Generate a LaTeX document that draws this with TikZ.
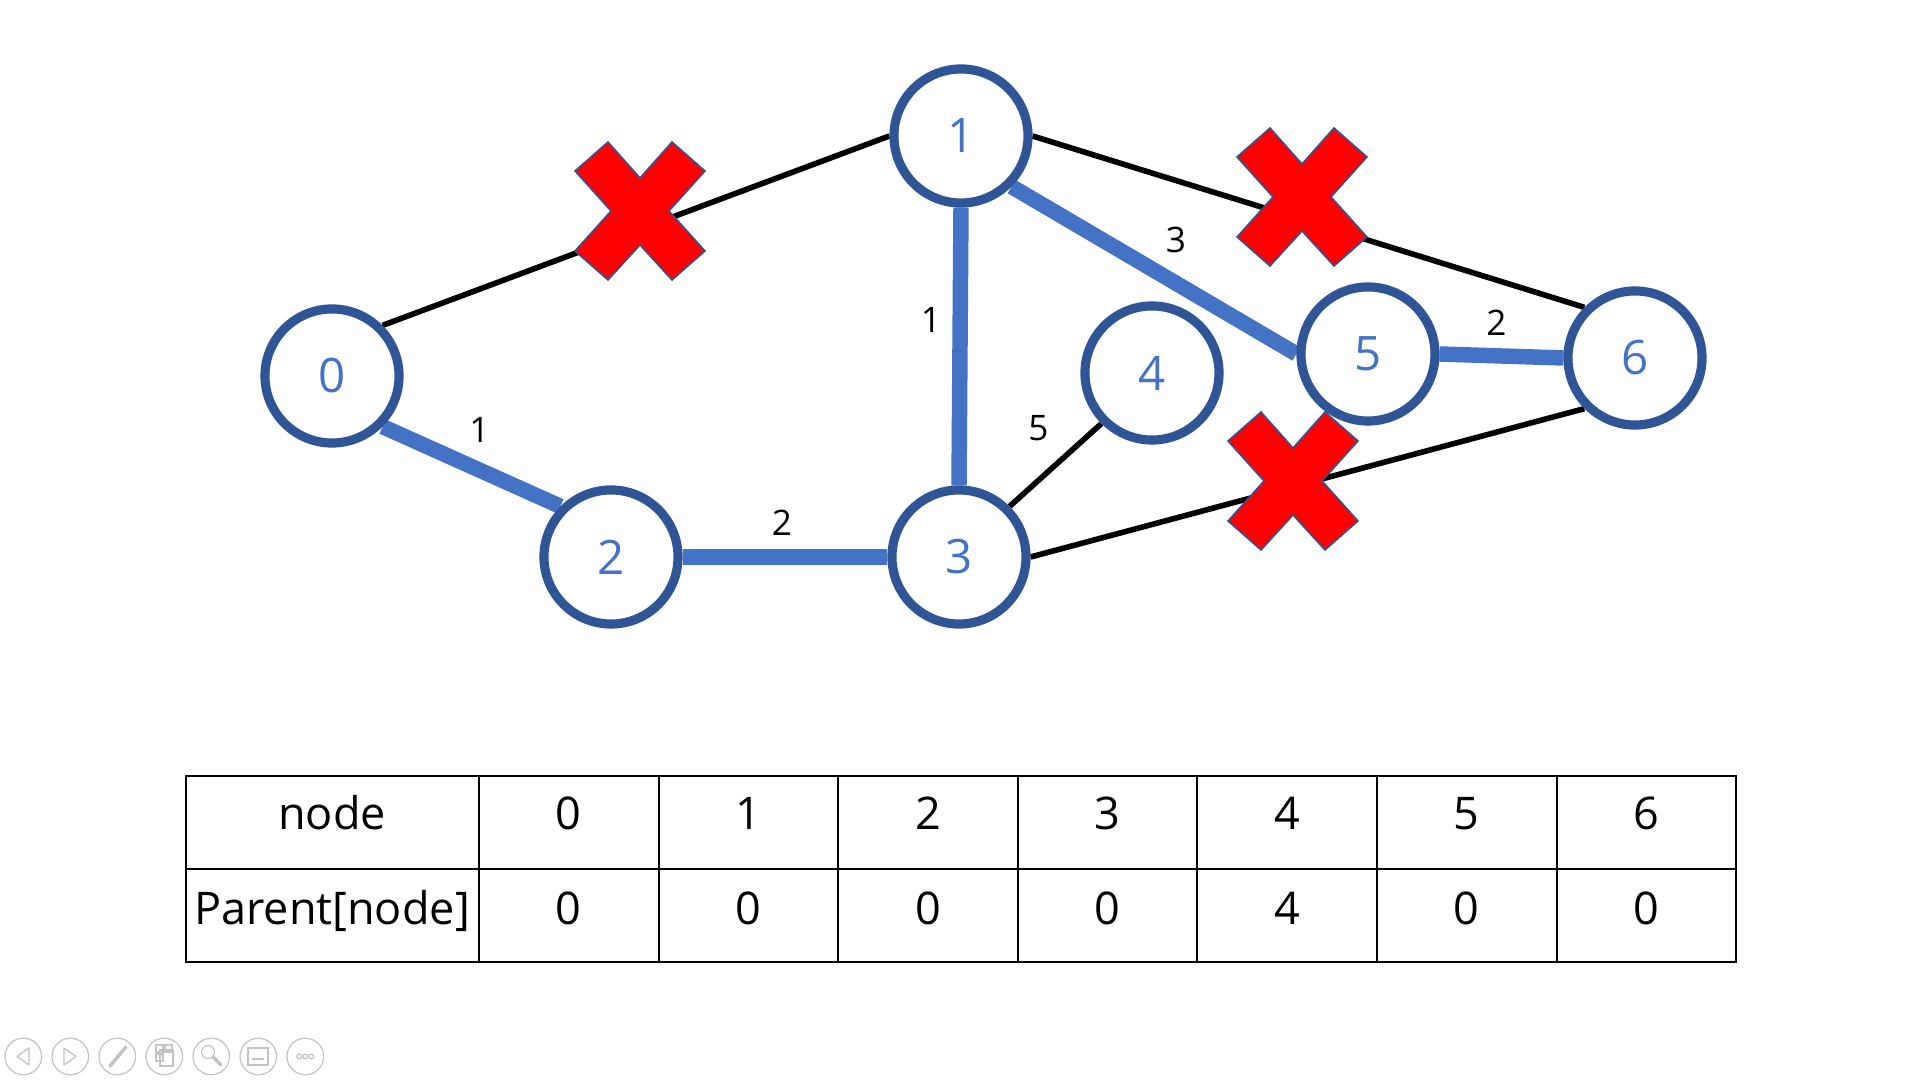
\documentclass[tikz,border=0pt]{standalone}
\usepackage{fontspec}
\setmainfont{Open Sans}
\usetikzlibrary{backgrounds,calc}
\definecolor{NodeRing}{HTML}{2F5597}
\definecolor{NodeText}{HTML}{4472C4}
\definecolor{TreeBlue}{HTML}{4472C4}
\definecolor{CrossRed}{HTML}{FF0000}
\definecolor{IconGrey}{HTML}{C4C4C4}

\begin{document}
\begin{tikzpicture}[x=0.01cm,y=-0.01cm,
          vtx/.style={circle,draw=NodeRing,line width=2.6pt,fill=white,
            minimum size=1.34cm,inner sep=0pt,text=NodeText,
            font=\fontsize{13.5}{16}\selectfont},
          tree/.style={TreeBlue,line width=4.4pt},
          plain/.style={black,line width=1.6pt},
          wt/.style={text=black,font=\fontsize{10}{12}\selectfont,inner sep=0pt},
          cross/.style={fill=CrossRed,draw=NodeRing,line width=0.45pt,line join=miter},
          cell/.style={font=\fontsize{12.8}{15}\selectfont,anchor=base,inner sep=0pt},
          icon/.style={draw=IconGrey,line width=0.35pt}]
        \useasboundingbox (0,0) rectangle (1920,1080);

        % graph nodes
        \node[vtx] (n0) at (332,376)  {0};
        \node[vtx] (n1) at (961,136)  {1};
        \node[vtx] (n2) at (611,557)  {2};
        \node[vtx] (n3) at (959,557)  {3};
        \node[vtx] (n4) at (1152,373) {4};
        \node[vtx] (n5) at (1368,354) {5};
        \node[vtx] (n6) at (1635,358) {6};

        \begin{scope}[on background layer]
          \fill[white] (0,0) rectangle (1920,1080);
          \draw[plain] (n0.north east) -- (n1.west);
          \draw[plain] (n1.east) -- (n6.north west);
          \draw[plain] (n3.east) -- (n6.south west);
          \draw[plain] (n3.north east) -- node[wt,shift={(-17,-37)}] {5} (n4.south west);
          \draw[tree] (n0.south east) -- node[wt,shift={(8,-37)}] {1} (n2.north west);
          \draw[tree] (n2.east) -- node[wt,shift={(-3,-34)}] {2} (n3.west);
          \draw[tree] (n1.south) -- node[wt,shift={(-29,-27)}] {1} (n3.north);
          \draw[tree] (n1.south east) -- node[wt,shift={(22,-30)}] {3} (n5.west);
          \draw[tree] (n5.east) -- node[wt,shift={(-5,-33)}] {2} (n6.west);
        \end{scope}

        % removed edges
        \foreach \cx/\cy in {640/211, 1302/197, 1293/481}
          \draw[cross,shift={(\cx,\cy)}] (0,-33) -- (32,-69) -- (65,-40) -- (29,0)
            -- (65,40) -- (32,69) -- (0,34) -- (-32,69) -- (-65,40) -- (-29,0)
            -- (-65,-40) -- (-32,-69) -- cycle;

        % parent table
        \draw[line width=0.6pt] (186,776) rectangle (1736,962);
        \draw[line width=0.6pt] (186,869) -- (1736,869);
        \foreach \i in {0,...,6}
          \draw[line width=0.6pt] ({479+179.6*\i},776) -- ({479+179.6*\i},962);
        \node[cell] (hd) at (332,830) {node};
        \node[cell] (pr) at (332,925) {Parent[node]};
        \foreach \v [count=\i from 0] in {0,0,0,0,4,0,0} {
          \node[cell] (k\i) at ({479+179.6*(\i+0.5)},830) {\i};
          \node[cell] (p\i) at ({479+179.6*(\i+0.5)},925) {\v};
        }

        % slide show controls
        \foreach \i in {0,...,6}
          \draw[icon] ({23.3+47*\i},1056.5) circle (18.3);
        \draw[icon,line join=round] (29,1048) -- (17,1056.5) -- (29,1065) -- cycle;
        \draw[icon,line join=round] (64,1048) -- (76,1056.5) -- (64,1065) -- cycle;
        \draw[icon,line width=1pt,line cap=round] (110,1066) -- (126,1047);
        \draw[icon] (156,1045) rectangle (163,1052) (165,1045) rectangle (172,1052)
          (156,1054) rectangle (163,1061) (160,1050) rectangle (173,1066);
        \draw[icon] (208,1052) circle (6.5);
        \draw[icon,line width=1pt,line cap=round] (213,1057) -- (221,1065);
        \draw[icon] (248,1048) rectangle (268,1065);
        \draw[icon] (252,1059) -- (264,1059);
        \foreach \i in {-1,0,1}
          \draw[icon] ({305.3+6*\i},1056.5) circle (2.4);
      \end{tikzpicture}
\end{document}
